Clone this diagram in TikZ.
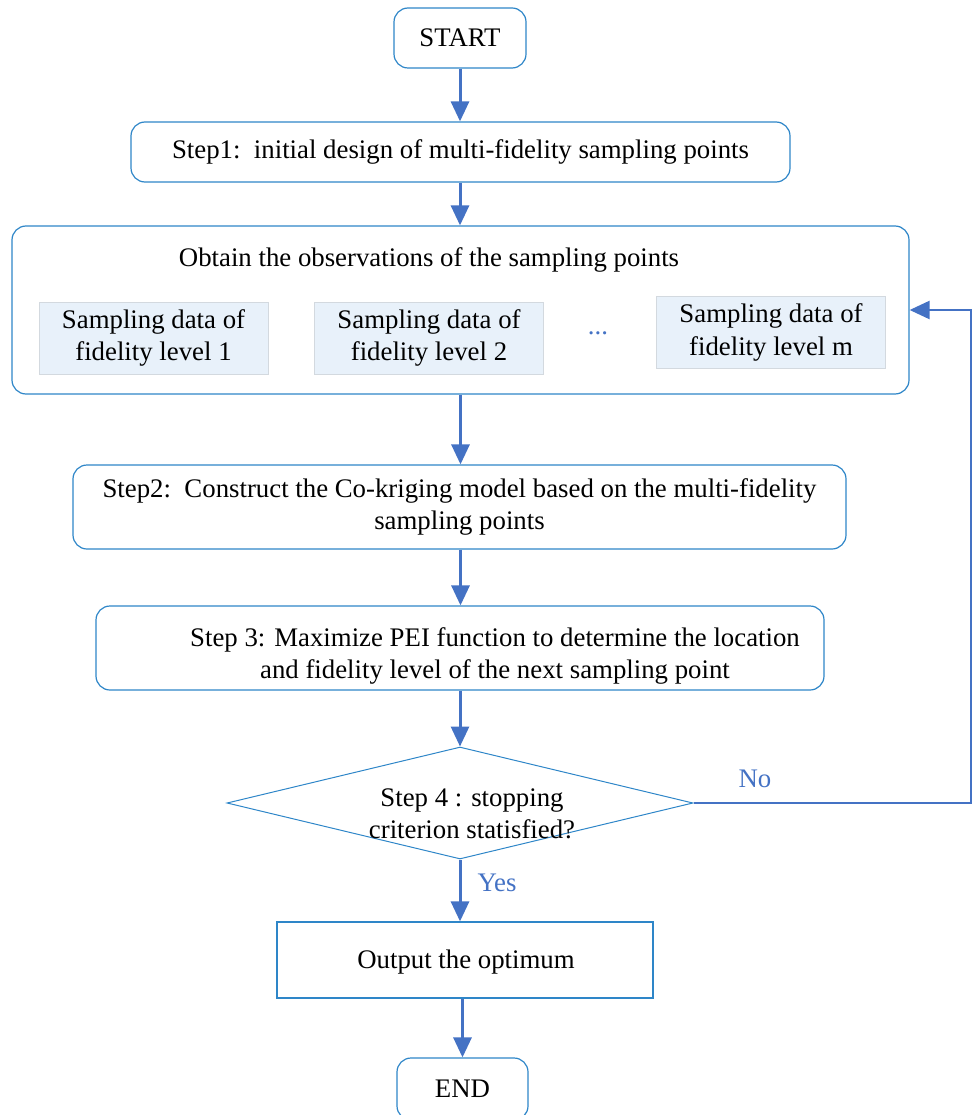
\documentclass[tikz,border=0pt]{standalone}
\usepackage{fontspec}
\setmainfont{Liberation Serif}
\usetikzlibrary{arrows.meta,shapes.geometric}
\definecolor{boxblue}{HTML}{2E86C8}
\definecolor{arrblue}{HTML}{4472C4}
\definecolor{samplefill}{HTML}{E8F1FA}
\definecolor{samplegray}{HTML}{D3D9DF}
\begin{document}
\begin{tikzpicture}[x=1pt,y=-1pt,
  every node/.style={font=\fontsize{26.8}{32.5}\selectfont, text=black},
  rbox/.style={draw=boxblue, line width=1.2pt, rounded corners=14pt, inner sep=0pt},
  sbox/.style={draw=boxblue, line width=1.2pt, inner sep=0pt},
  sample/.style={draw=samplegray, fill=samplefill, line width=1pt, inner sep=0pt,
    minimum width=229pt, minimum height=72pt, align=center},
  flow/.style={draw=arrblue, line width=3pt, -{Triangle[width=18pt,length=20pt]}},
  lbl/.style={text=arrblue}
]
\useasboundingbox (0,0) rectangle (973,1115);

\node[rbox, minimum width=132pt, minimum height=60pt] (start) at (460,38) {START};
\node[rbox, minimum width=659pt, minimum height=60pt] (s1) at (460.5,152)
  {Step1:\ \ initial design of multi-fidelity sampling points};

\node[rbox, minimum width=897pt, minimum height=168pt] (obs) at (460.5,310) {};
\node (obst) at (429,260) {Obtain the observations of the sampling points};
\node[sample] (d1) at (153.5,338) {Sampling data of\\fidelity level 1};
\node[sample] (d2) at (429,338) {Sampling data of\\fidelity level 2};
\node[sample] (dm) at (771,332.5) {Sampling data of\\fidelity level m};
\node[lbl] (dots) at (598,333) {...};

\node[rbox, minimum width=773pt, minimum height=84pt, align=center] (s2) at (459.5,507)
  {Step2:\ \ Construct the Co-kriging model based on the multi-fidelity\\sampling points};

\node[rbox, minimum width=728pt, minimum height=84pt] (s3) at (460,648) {};
\node[align=center] (s3t) at (495,656)
  {Step 3: Maximize PEI function to determine the location\\and fidelity level of the next sampling point};

\node[diamond, draw=boxblue, line width=1pt, inner sep=0pt,
  minimum width=466pt, minimum height=112pt] (dia) at (460,803) {};
\node[align=center] (diat) at (472,814) {Step 4 : stopping\\criterion statisfied?};

\node[sbox, minimum width=376pt, minimum height=76pt] (out) at (465,960) {};
\node (outt) at (466,962) {Output the optimum};
\node[rbox, minimum width=131pt, minimum height=62pt] (end) at (462.5,1089) {END};

\coordinate (nr) at (971,803);

\draw[flow] (start.south) -- (start.south |- s1.north);
\draw[flow] (s1.south -| start.south) -- (start.south |- obs.north);
\draw[flow] (obs.south) -- (obs.south |- s2.north);
\draw[flow] (s2.south -| obs.south) -- (obs.south |- s3.north);
\draw[flow] (s3.south -| dia.north) -- (dia.north);
\draw[flow] (dia.south) -- (dia.south |- out.north);
\draw[flow] (end.north |- out.south) -- (end.north);
\draw[flow, line width=2.5pt] (dia.east) -- (nr) |- (obs.east);

\node[lbl] (no) at (755,779) {No};
\node[lbl] (yes) at (497,883) {Yes};
\end{tikzpicture}
\end{document}
